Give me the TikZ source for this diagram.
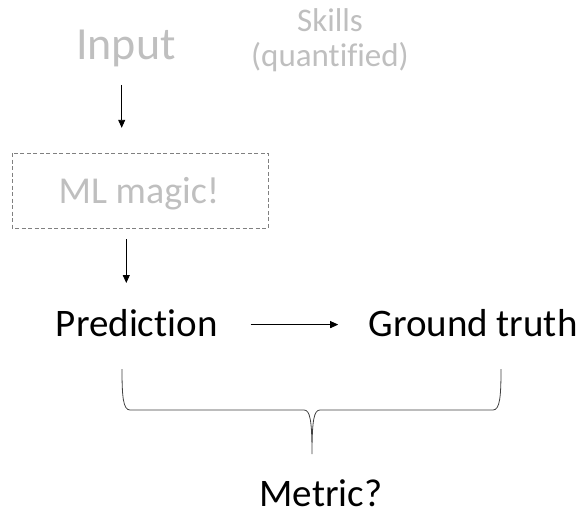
\documentclass[tikz,border=0pt]{standalone}
\usepackage{fontspec}
\setmainfont[Ligatures=NoCommon]{Carlito}
\usetikzlibrary{arrows.meta,calc}
\definecolor{fadedtext}{HTML}{BFBFBF}
\definecolor{boxline}{HTML}{808080}
\definecolor{braceline}{HTML}{404040}
\begin{document}
\begin{tikzpicture}[x=1pt,y=-1pt,
  faded/.style={text=fadedtext,inner sep=0pt,anchor=base},
  plain/.style={text=black,inner sep=0pt,anchor=base},
  arr/.style={line width=0.9pt,-{Triangle[length=8pt,width=7pt]}},
  dashbox/.style={draw=boxline,line width=1pt,dash pattern=on 4pt off 2.5pt}]
\useasboundingbox (0,0) rectangle (588,516);

% faded upper part
\node[faded,font=\fontsize{46}{50}\selectfont] (input) at (126,60) {Input};
\node[faded,font=\fontsize{33}{35}\selectfont] (skills) at (330,31.7) {Skills};
\node[faded,font=\fontsize{33}{35}\selectfont] (quant) at (330,66.7) {(quantified)};
\draw[dashbox] (12,153) rectangle (268,228);
\node (box) at (140,190.5) [minimum width=256pt,minimum height=75pt,inner sep=0pt] {};
\node[faded,font=\fontsize{38}{42}\selectfont] (ml) at (139,203) {ML magic!};

% main row
\node[plain,font=\fontsize{39}{44}\selectfont] (pred) at (136.7,336.6) {Prediction};
\node[plain,font=\fontsize{39}{44}\selectfont] (gt) at (473,336.6) {Ground truth};
\node[plain,font=\fontsize{39}{44}\selectfont] (metric) at (321,506) {Metric?};

% arrows
\draw[arr] ([xshift=-4.3pt,yshift=-25pt]input.base) -- ([xshift=-18.3pt,yshift=25pt]box.north);
\draw[arr] ([xshift=-13.7pt,yshift=-11pt]box.south) -- ([xshift=-10.4pt,yshift=53.6pt]pred.base);
\draw[arr] ([xshift=33pt,yshift=12pt]pred.base east) -- ([xshift=-30pt,yshift=12pt]gt.base west);

% brace under both quantities
\coordinate (bl) at (122,369);
\coordinate (br) at (501,369);
\coordinate (tip) at (312,454);
\draw[braceline,line width=0.8pt]
  (bl) .. controls (122,396) and (123,410) .. (130,410) -- (304,410)
  .. controls (310,410) and (312,420) .. (tip)
  .. controls (312,420) and (314,410) .. (320,410) -- (493,410)
  .. controls (500,410) and (501,396) .. (br);
\end{tikzpicture}
\end{document}
